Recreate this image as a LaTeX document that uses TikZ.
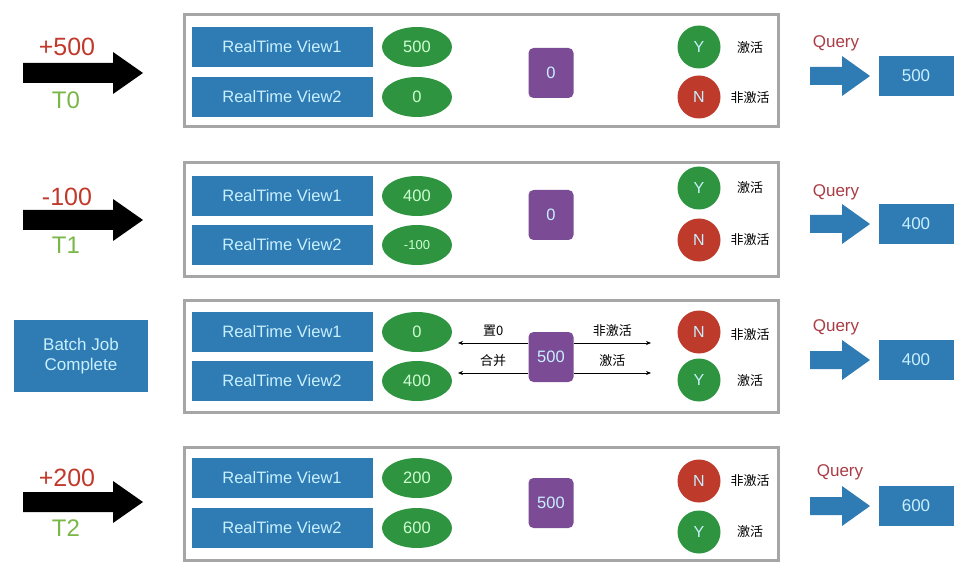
\documentclass[tikz,border=0pt]{standalone}
\usepackage{fontspec}
\setmainfont{Liberation Sans}
\newfontfamily\cjk{Noto Sans CJK SC}
\usetikzlibrary{arrows.meta,shapes.geometric}
\definecolor{viewblue}{RGB}{47,123,180}
\definecolor{boxtext}{RGB}{200,240,255}
\definecolor{countgreen}{RGB}{46,148,64}
\definecolor{counttext}{RGB}{205,255,210}
\definecolor{flagred}{RGB}{190,58,43}
\definecolor{basepurple}{RGB}{123,75,150}
\definecolor{deltared}{RGB}{192,57,43}
\definecolor{timegreen}{RGB}{122,182,72}
\definecolor{queryred}{RGB}{170,60,70}
\tikzset{
  panel/.style={draw=gray!70, line width=3pt, fill=white},
  view/.style={fill=viewblue, text=boxtext, minimum width=181pt, minimum height=40pt,
    inner sep=0pt, font=\fontsize{16.5}{16.5}\selectfont},
  count/.style={ellipse, fill=countgreen, text=counttext, minimum width=70pt,
    minimum height=40pt, inner sep=0pt, font=\fontsize{16.5}{16.5}\selectfont},
  flag/.style={circle, minimum size=43pt, inner sep=0pt, text=boxtext,
    font=\fontsize{16}{16}\selectfont},
  yes/.style={flag, fill=countgreen},
  no/.style={flag, fill=flagred},
  base/.style={fill=basepurple, rounded corners=5pt, text=boxtext, minimum width=45pt,
    minimum height=50pt, inner sep=0pt, font=\fontsize{16.5}{16.5}\selectfont},
  state/.style={font=\cjk\fontsize{13}{13}\selectfont},
  result/.style={fill=viewblue, text=boxtext, minimum width=75pt, minimum height=40pt,
    inner sep=0pt, font=\fontsize{17}{17}\selectfont},
  delta/.style={text=deltared, font=\fontsize{25}{25}\selectfont},
  tick/.style={text=timegreen, font=\fontsize{24}{24}\selectfont},
  query/.style={text=queryred, font=\fontsize{17}{17}\selectfont},
  move/.style={-{Stealth[length=5pt,width=4pt]}, semithick},
}
\begin{document}
\begin{tikzpicture}[x=1pt,y=-1pt]
  \useasboundingbox (0,0) rectangle (980,572);
  % push arrows and query arrows
  \foreach \y in {73,220,502}
    \fill[black] (23,\y-10) -- (113,\y-10) -- (113,\y-21) -- (143,\y)
      -- (113,\y+21) -- (113,\y+10) -- (23,\y+10) -- cycle;
  \foreach \y in {76,224,360,506}
    \fill[viewblue] (810,\y-9) -- (842,\y-9) -- (842,\y-20) -- (870,\y)
      -- (842,\y+20) -- (842,\y+9) -- (810,\y+9) -- cycle;
  % panels
  \draw[panel] (184,15) rectangle (778,127);
  \draw[panel] (184,163) rectangle (778,276);
  \draw[panel] (184,300) rectangle (778,412);
  \draw[panel] (184,447) rectangle (778,560);

  % T0
  \node[delta] (d0) at (67,47) {+500};
  \node[tick] (t0) at (66,100) {T0};
  \node[view] (v11) at (282,47) {RealTime View1};
  \node[view] (v12) at (282,97) {RealTime View2};
  \node[count] (c11) at (417,47) {500};
  \node[count] (c12) at (417,97) {0};
  \node[base] (m1) at (551,73) {0};
  \node[yes] (f11) at (699,47) {Y};
  \node[no] (f12) at (699,97) {N};
  \node[state] (s11) at (750,48) {激活};
  \node[state] (s12) at (750,98) {非激活};
  \node[query] (q1) at (836,43) {Query};
  \node[result] (r1) at (916,76) {500};

  % T1
  \node[delta] (d1) at (67,197) {-100};
  \node[tick] (t1) at (66,245) {T1};
  \node[view] (v21) at (282,196) {RealTime View1};
  \node[view] (v22) at (282,245) {RealTime View2};
  \node[count] (c21) at (417,196) {400};
  \node[count, font=\fontsize{13}{13}\selectfont] (c22) at (417,245) {-100};
  \node[base] (m2) at (551,215) {0};
  \node[yes] (f21) at (699,188) {Y};
  \node[no] (f22) at (699,240) {N};
  \node[state] (s21) at (750,188) {激活};
  \node[state] (s22) at (750,240) {非激活};
  \node[query] (q2) at (836,192) {Query};
  \node[result] (r2) at (916,224) {400};

  % batch job
  \node[result, minimum width=134pt, minimum height=72pt, align=center,
    font=\fontsize{17}{20}\selectfont] (job) at (81,356) {Batch Job\\Complete};
  \node[view] (v31) at (282,332) {RealTime View1};
  \node[view] (v32) at (282,381) {RealTime View2};
  \node[count] (c31) at (417,332) {0};
  \node[count] (c32) at (417,381) {400};
  \node[base] (m3) at (551,357) {500};
  \node[no] (f31) at (699,332) {N};
  \node[yes] (f32) at (699,380) {Y};
  \node[state] (s31) at (750,335) {非激活};
  \node[state] (s32) at (750,381) {激活};
  \coordinate (l1) at (458,343);
  \coordinate (l2) at (458,373);
  \coordinate (k1) at (651,343);
  \coordinate (k2) at (651,373);
  \path[move]
    (m3.west |- l1) edge node [state, above=3pt] {置0} (l1)
    (m3.west |- l2) edge node [state, above=3pt] {合并} (l2)
    (m3.east |- k1) edge node [state, above=3pt] {非激活} (k1)
    (m3.east |- k2) edge node [state, above=3pt] {激活} (k2);
  \node[query] (q3) at (836,327) {Query};
  \node[result] (r3) at (916,360) {400};

  % T2
  \node[delta] (d2) at (67,478) {+200};
  \node[tick] (t2) at (66,528) {T2};
  \node[view] (v41) at (282,478) {RealTime View1};
  \node[view] (v42) at (282,528) {RealTime View2};
  \node[count] (c41) at (417,478) {200};
  \node[count] (c42) at (417,528) {600};
  \node[base] (m4) at (551,503) {500};
  \node[no] (f41) at (699,481) {N};
  \node[yes] (f42) at (699,532) {Y};
  \node[state] (s41) at (750,481) {非激活};
  \node[state] (s42) at (750,532) {激活};
  \node[query] (q4) at (840,472) {Query};
  \node[result] (r4) at (916,506) {600};
\end{tikzpicture}
\end{document}
